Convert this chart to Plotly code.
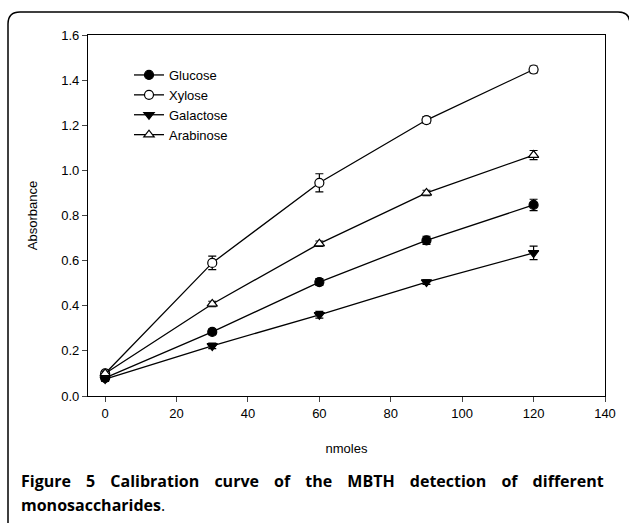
import plotly.graph_objects as go

nmoles = [0, 30, 60, 90, 120]
glucose = [0.08, 0.284, 0.505, 0.69, 0.847]
glucose_err = [0.01, 0.012, 0.015, 0.018, 0.025]
xylose = [0.10, 0.59, 0.945, 1.223, 1.447]
xylose_err = [0.01, 0.03, 0.04, 0.015, 0.015]
galactose = [0.075, 0.222, 0.36, 0.505, 0.634]
galactose_err = [0.01, 0.012, 0.015, 0.01, 0.03]
arabinose = [0.10, 0.408, 0.675, 0.90, 1.068]
arabinose_err = [0.01, 0.012, 0.012, 0.012, 0.02]

x_ticks = [0, 20, 40, 60, 80, 100, 120, 140]
y_ticks = [0.0, 0.2, 0.4, 0.6, 0.8, 1.0, 1.2, 1.4, 1.6]

caption_line1 = "Figure 5 Calibration curve of the MBTH detection of different"
caption_line2 = "monosaccharides"

series = [
    ("Glucose", glucose, glucose_err, "circle", "black"),
    ("Xylose", xylose, xylose_err, "circle", "white"),
    ("Galactose", galactose, galactose_err, "triangle-down", "black"),
    ("Arabinose", arabinose, arabinose_err, "triangle-up", "white"),
]

fig = go.Figure()
for name, ys, errs, sym, fill in series:
    fig.add_trace(go.Scatter(
        x=nmoles, y=ys, name=name, mode="lines+markers",
        line=dict(color="black", width=1.3),
        marker=dict(symbol=sym, size=9, color=fill, line=dict(color="black", width=1.2)),
        error_y=dict(type="data", array=errs, visible=True, color="black", thickness=1.2, width=4),
    ))

W, H = 629, 523
L, R, T, B = 88, 605, 35, 396
pw, ph = R - L, B - T

def px(xp):
    return (xp - L) / pw

def py(yp):
    return (B - yp) / ph

border = (f"M {px(8)},{py(540)} L {px(8)},{py(24)} Q {px(8)},{py(12)} {px(20)},{py(12)} "
          f"L {px(618)},{py(12)} Q {px(630)},{py(12)} {px(630)},{py(24)} L {px(630)},{py(540)}")

gap = " &nbsp;&nbsp;&#8201;"
line1 = gap.join(caption_line1.split(" "))

fig.update_layout(
    width=W, height=H,
    margin=dict(l=L, r=W - R, t=T, b=H - B),
    paper_bgcolor="white", plot_bgcolor="white",
    font=dict(family="Liberation Sans, Arial", size=13, color="black"),
    showlegend=True,
    legend=dict(x=px(129), y=py(60), xanchor="left", yanchor="top",
                bgcolor="rgba(0,0,0,0)", font=dict(size=13), tracegroupgap=0,
                itemwidth=30),
    xaxis=dict(range=[-4.8, 140], tickvals=x_ticks, ticks="outside", ticklen=5,
               showline=True, linecolor="black", linewidth=1.2, mirror=True,
               showgrid=False, zeroline=False,
               title=dict(text="nmoles", font=dict(size=13), standoff=24)),
    yaxis=dict(range=[0, 1.6], tickvals=y_ticks, tickformat=".1f", ticks="outside", ticklen=5,
               showline=True, linecolor="black", linewidth=1.2, mirror=True,
               showgrid=False, zeroline=False,
               title=dict(text="Absorbance", font=dict(size=13), standoff=20)),
    shapes=[dict(type="path", xref="paper", yref="paper", path=border,
                 line=dict(color="black", width=1.5), layer="above")],
    annotations=[
        dict(xref="paper", yref="paper", x=px(19), y=py(481), xanchor="left", yanchor="middle",
             showarrow=False, align="left",
             text=f"<b>{line1}</b>",
             font=dict(family="Open Sans", size=16, color="black")),
        dict(xref="paper", yref="paper", x=px(19), y=py(505), xanchor="left", yanchor="middle",
             showarrow=False, align="left",
             text=f"<b>{caption_line2}</b>.",
             font=dict(family="Open Sans", size=16, color="black")),
    ],
)

fig.write_html("out.html", config={"displayModeBar": False},
               post_script="document.body.style.margin='0';")
